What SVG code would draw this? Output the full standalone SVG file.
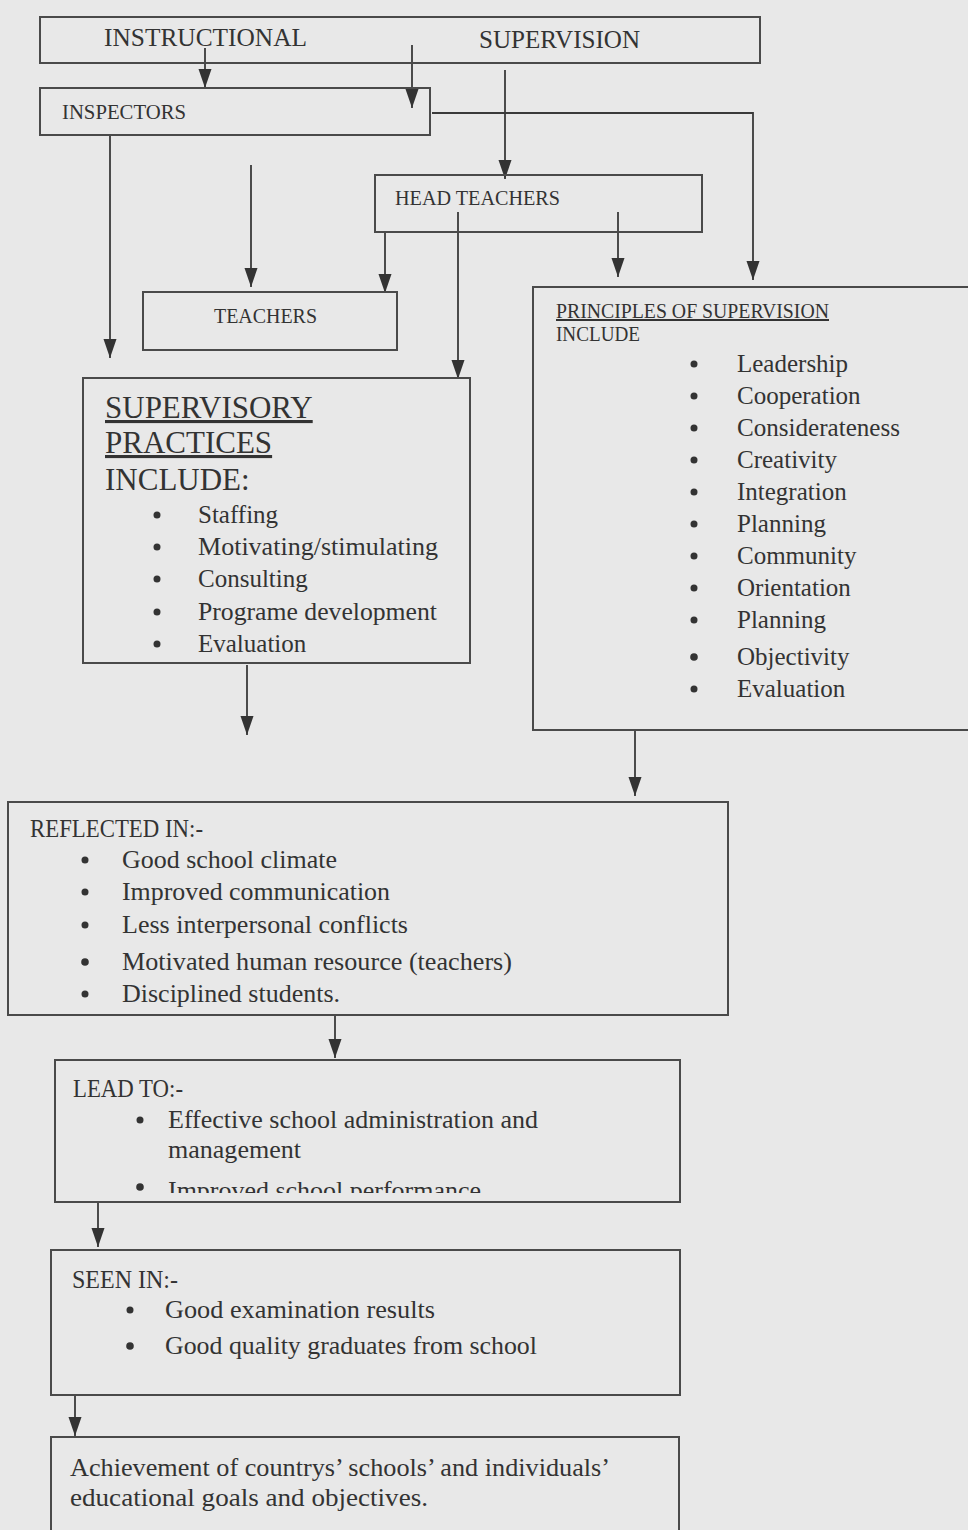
<svg xmlns="http://www.w3.org/2000/svg" width="968" height="1530" viewBox="0 0 968 1530">
<defs>
<style>
.bg{fill:#e8e8e8}
.box{fill:none;stroke:#4a4a4a;stroke-width:2}
.ln{fill:none;stroke:#3a3a3a;stroke-width:1.8}
text{font-family:"Liberation Serif","Times New Roman",serif;fill:#333}
.cap{font-size:20px}
.top{font-size:25px}
.body{font-size:25px}
.head{font-size:31px}
.ul{text-decoration:underline}
</style>
<marker id="ah" viewBox="0 -7 20 14" refX="19" refY="0" markerWidth="20" markerHeight="14" markerUnits="userSpaceOnUse" orient="auto">
<path d="M0,-6.5 L19,0 L0,6.5 z" fill="#333"/>
</marker>
<clipPath id="leadclip"><rect x="55" y="1060" width="625" height="133"/></clipPath>
</defs>
<rect class="bg" x="0" y="0" width="968" height="1530"/>

<g id="connectors">
<line class="ln" x1="205" y1="48" x2="205" y2="88" marker-end="url(#ah)"/>
<line class="ln" x1="412" y1="45" x2="412" y2="108" marker-end="url(#ah)"/>
<line class="ln" x1="505" y1="70" x2="505" y2="179" marker-end="url(#ah)"/>
<path class="ln" d="M432,113 H753 V280" marker-end="url(#ah)"/>
<line class="ln" x1="110" y1="135" x2="110" y2="358" marker-end="url(#ah)"/>
<line class="ln" x1="251" y1="165" x2="251" y2="287" marker-end="url(#ah)"/>
<line class="ln" x1="385" y1="232" x2="385" y2="293" marker-end="url(#ah)"/>
<line class="ln" x1="458" y1="212" x2="458" y2="379" marker-end="url(#ah)"/>
<line class="ln" x1="618" y1="212" x2="618" y2="277" marker-end="url(#ah)"/>
<line class="ln" x1="247" y1="665" x2="247" y2="735" marker-end="url(#ah)"/>
<line class="ln" x1="635" y1="730" x2="635" y2="796" marker-end="url(#ah)"/>
<line class="ln" x1="335" y1="1015" x2="335" y2="1058" marker-end="url(#ah)"/>
<line class="ln" x1="98" y1="1202" x2="98" y2="1247" marker-end="url(#ah)"/>
<line class="ln" x1="75" y1="1395" x2="75" y2="1436" marker-end="url(#ah)"/>
</g>

<g id="instructional-supervision">
<rect class="box" x="40" y="17" width="720" height="46"/>
<text class="top" x="104" y="46" textLength="203" lengthAdjust="spacingAndGlyphs">INSTRUCTIONAL</text>
<text class="top" x="479" y="48" textLength="161" lengthAdjust="spacingAndGlyphs">SUPERVISION</text>
</g>

<g id="inspectors">
<rect class="box" x="40" y="88" width="390" height="47"/>
<text class="cap" x="62" y="119" textLength="124" lengthAdjust="spacingAndGlyphs">INSPECTORS</text>
</g>

<g id="head-teachers">
<rect class="box" x="375" y="175" width="327" height="57"/>
<text class="cap" x="395" y="205" textLength="165" lengthAdjust="spacingAndGlyphs">HEAD TEACHERS</text>
</g>

<g id="teachers">
<rect class="box" x="143" y="292" width="254" height="58"/>
<text class="cap" x="214" y="323" textLength="103" lengthAdjust="spacingAndGlyphs">TEACHERS</text>
</g>

<g id="principles">
<rect class="box" x="533" y="287" width="450" height="443"/>
<text class="cap ul" x="556" y="318" textLength="273" lengthAdjust="spacingAndGlyphs">PRINCIPLES OF SUPERVISION</text>
<text class="cap" x="556" y="341" textLength="84" lengthAdjust="spacingAndGlyphs">INCLUDE</text>
<circle cx="694" cy="364" r="3.5" fill="#333"/><text class="body" x="737" y="372">Leadership</text>
<circle cx="694" cy="396" r="3.5" fill="#333"/><text class="body" x="737" y="404">Cooperation</text>
<circle cx="694" cy="428" r="3.5" fill="#333"/><text class="body" x="737" y="436" textLength="163" lengthAdjust="spacingAndGlyphs">Considerateness</text>
<circle cx="694" cy="460" r="3.5" fill="#333"/><text class="body" x="737" y="468">Creativity</text>
<circle cx="694" cy="492" r="3.5" fill="#333"/><text class="body" x="737" y="500">Integration</text>
<circle cx="694" cy="524" r="3.5" fill="#333"/><text class="body" x="737" y="532">Planning</text>
<circle cx="694" cy="556" r="3.5" fill="#333"/><text class="body" x="737" y="564">Community</text>
<circle cx="694" cy="588" r="3.5" fill="#333"/><text class="body" x="737" y="596">Orientation</text>
<circle cx="694" cy="620" r="3.5" fill="#333"/><text class="body" x="737" y="628">Planning</text>
<circle cx="694" cy="657" r="3.8" fill="#333"/><text class="body" x="737" y="665">Objectivity</text>
<circle cx="694" cy="689" r="3.5" fill="#333"/><text class="body" x="737" y="697">Evaluation</text>
</g>

<g id="supervisory-practices">
<rect class="box" x="83" y="378" width="387" height="285"/>
<text class="head ul" x="105" y="418">SUPERVISORY</text>
<text class="head ul" x="105" y="453">PRACTICES</text>
<text class="head" x="105" y="490">INCLUDE:</text>
<circle cx="157" cy="515" r="3.5" fill="#333"/><text class="body" x="198" y="523">Staffing</text>
<circle cx="157" cy="547" r="3.5" fill="#333"/><text class="body" x="198" y="555" textLength="240" lengthAdjust="spacingAndGlyphs">Motivating/stimulating</text>
<circle cx="157" cy="579" r="3.5" fill="#333"/><text class="body" x="198" y="587">Consulting</text>
<circle cx="157" cy="612" r="3.5" fill="#333"/><text class="body" x="198" y="620" textLength="239" lengthAdjust="spacingAndGlyphs">Programe development</text>
<circle cx="157" cy="644" r="3.5" fill="#333"/><text class="body" x="198" y="652">Evaluation</text>
</g>

<g id="reflected-in">
<rect class="box" x="8" y="802" width="720" height="213"/>
<text class="body" x="30" y="837" textLength="173" lengthAdjust="spacingAndGlyphs">REFLECTED IN:-</text>
<circle cx="85" cy="860" r="3.5" fill="#333"/><text class="body" x="122" y="868" textLength="215" lengthAdjust="spacingAndGlyphs">Good school climate</text>
<circle cx="85" cy="892" r="3.5" fill="#333"/><text class="body" x="122" y="900" textLength="268" lengthAdjust="spacingAndGlyphs">Improved communication</text>
<circle cx="85" cy="925" r="3.5" fill="#333"/><text class="body" x="122" y="933" textLength="286" lengthAdjust="spacingAndGlyphs">Less interpersonal conflicts</text>
<circle cx="85" cy="962" r="3.8" fill="#333"/><text class="body" x="122" y="970" textLength="390" lengthAdjust="spacingAndGlyphs">Motivated human resource (teachers)</text>
<circle cx="85" cy="994" r="3.5" fill="#333"/><text class="body" x="122" y="1002" textLength="218" lengthAdjust="spacingAndGlyphs">Disciplined students.</text>
</g>

<g id="lead-to">
<rect class="box" x="55" y="1060" width="625" height="142"/>
<text class="body" x="73" y="1097" textLength="110" lengthAdjust="spacingAndGlyphs">LEAD TO:-</text>
<circle cx="140" cy="1120" r="3.5" fill="#333"/><text class="body" x="168" y="1128" textLength="370" lengthAdjust="spacingAndGlyphs">Effective school administration and</text>
<text class="body" x="168" y="1158" textLength="133" lengthAdjust="spacingAndGlyphs">management</text>
<circle cx="140" cy="1187" r="3.8" fill="#333"/>
<text class="body" x="168" y="1199" clip-path="url(#leadclip)" textLength="313" lengthAdjust="spacingAndGlyphs">Improved school performance</text>
</g>

<g id="seen-in">
<rect class="box" x="51" y="1250" width="629" height="145"/>
<text class="body" x="72" y="1288" textLength="106" lengthAdjust="spacingAndGlyphs">SEEN IN:-</text>
<circle cx="130" cy="1310" r="3.5" fill="#333"/><text class="body" x="165" y="1318" textLength="270" lengthAdjust="spacingAndGlyphs">Good examination results</text>
<circle cx="130" cy="1346" r="3.8" fill="#333"/><text class="body" x="165" y="1354" textLength="372" lengthAdjust="spacingAndGlyphs">Good quality graduates from school</text>
</g>

<g id="achievement">
<rect class="box" x="51" y="1437" width="628" height="110"/>
<text class="body" x="70" y="1476" textLength="540" lengthAdjust="spacingAndGlyphs">Achievement of countrys’ schools’ and individuals’</text>
<text class="body" x="70" y="1506" textLength="358" lengthAdjust="spacingAndGlyphs">educational goals and objectives.</text>
</g>
</svg>
